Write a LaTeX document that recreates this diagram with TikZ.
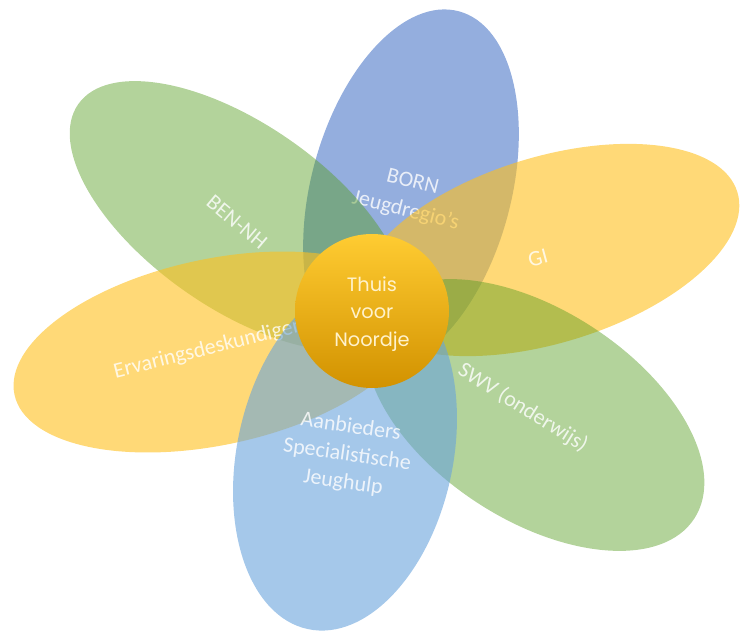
\documentclass[tikz,border=0pt]{standalone}
\usepackage{fontspec}
\setmainfont{Carlito}
\newfontfamily\roundfont{Poppins}
\usepackage{tikz}

\definecolor{petalblue}{RGB}{102,139,208}
\definecolor{petalgreen}{RGB}{86,157,33}
\definecolor{petalyellow}{RGB}{255,192,28}
\definecolor{petalsky}{RGB}{105,163,220}
\definecolor{hearttop}{RGB}{255,204,50}
\definecolor{heartmid}{RGB}{255,192,0}
\definecolor{heartbottom}{RGB}{210,146,0}
\definecolor{hearttext}{RGB}{255,242,204}

\tikzset{
  petal/.style={fill=#1, fill opacity=0.6},
  lbl/.style={text=white, text opacity=0.8, align=center,
    font=\fontsize{16.5}{22}\selectfont},
}

\begin{document}
\begin{tikzpicture}[x=0.75pt, y=-0.75pt]
\useasboundingbox (0,0) rectangle (741,634);
\fill[petal=petalblue, fill opacity=0.7] (411,190) ellipse [x radius=100, y radius=185, rotate=-15];
\node[lbl, rotate=-14] (born) at (409,197) {BORN\\Jeugdregio's};
\fill[petal=petalgreen, fill opacity=0.45] (238,216) ellipse [x radius=195, y radius=92, rotate=-35];
\node[lbl, rotate=-40] (bennh) at (237,222) {BEN-NH};
\fill[petal=petalyellow] (215,352) ellipse [x radius=205, y radius=93, rotate=12];
\node[lbl, rotate=14] (ervaring) at (209,349) {Ervaringsdeskundigen};
\fill[petal=petalyellow] (548,250) ellipse [x radius=198, y radius=93, rotate=17];
\node[lbl, rotate=15] (gi) at (538,258) {GI};
\fill[petal=petalgreen, fill opacity=0.45] (535,415) ellipse [x radius=190, y radius=105, rotate=-33];
\node[lbl, rotate=-32] (swv) at (523,408) {SWV (onderwijs)};
\fill[petal=petalsky] (345,455) ellipse [x radius=108, y radius=178, rotate=-12];
\node[lbl, rotate=-8, font=\fontsize{16.5}{21}\selectfont] (aanbieders) at (347,455) {Aanbieders\\Specialistische\\Jeughulp};
\shade[top color=hearttop, middle color=heartmid, bottom color=heartbottom] (372,311) circle [radius=77];
\node[text=hearttext, align=center, font=\roundfont\fontsize{14.5}{20.6}\selectfont] (thuis) at (372,314) {Thuis\\voor\\Noordje};
\end{tikzpicture}
\end{document}
